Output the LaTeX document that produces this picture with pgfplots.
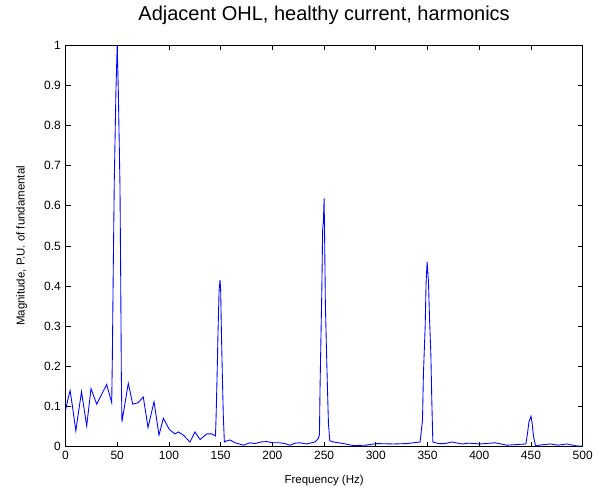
\documentclass[border=0pt]{standalone}
\usepackage{pgfplots}
\pgfplotsset{compat=1.18}
\usepackage{fontspec}
\setmainfont{Liberation Sans}

\begin{document}
\begin{tikzpicture}
% page frame, 605x493 px at 0.75pt/px
\useasboundingbox (-49.1pt,-34.7pt) rectangle (404.6pt,335.05pt);
\begin{axis}[
    scale only axis,
    width=387.9pt, height=301.3pt,
    at={(0,0)}, anchor=south west,
    xmin=0, xmax=500,
    ymin=0, ymax=1,
    xtick={0,50,...,500},
    ytick={0,0.1,...,1},
    tick align=inside,
    major tick length=3.8pt,
    axis line style={line width=0.5pt},
    every tick/.style={black, line width=0.5pt},
    /pgf/number format/assume math mode=true,
    /pgf/number format/fixed,
    ticklabel style={font=\fontsize{9}{10}\selectfont},
    xlabel={Frequency (Hz)},
    ylabel={Magnitude, P.U. of fundamental},
    label style={font=\fontsize{8.6}{10}\selectfont},
    xlabel style={yshift=-4.5pt},
    ylabel style={yshift=6pt},
    title={Adjacent OHL, healthy current, harmonics},
    title style={font=\fontsize{15}{16}\selectfont, at={(0.5,1)}, anchor=base, yshift=12pt},
]
\addplot[color=blue, line width=0.65pt] coordinates {
(0,0.09)(2.5,0.12)(4.5,0.14)(6.5,0.105)(10,0.04)(15.5,0.137)(20.5,0.052)
(24.7,0.145)(30.2,0.106)(39.8,0.155)(44.7,0.11)(45.3,0.22)(46.2,0.444)
(47.2,0.664)(48.8,0.888)(50,1.0)(51.1,0.884)(52.7,0.647)(53.4,0.415)
(54,0.178)(54.6,0.062)(60.7,0.158)(65,0.106)(70.4,0.11)(75.2,0.124)
(79.8,0.048)(85.6,0.112)(90.4,0.029)(94.6,0.071)(100.4,0.043)(105.9,0.032)
(109.1,0.037)(113.9,0.029)(120.4,0.012)(125.2,0.037)(130.1,0.018)
(136.6,0.032)(141.4,0.032)(145,0.027)(145.6,0.075)(146.5,0.17)(147.5,0.29)
(148.5,0.39)(149.4,0.415)(150,0.39)(150.7,0.29)(151.7,0.17)(152.6,0.075)
(153.6,0.012)(156,0.015)(159,0.017)(164,0.01)(172,0.004)(178.4,0.01)
(183,0.008)(189,0.012)(194.6,0.013)(200,0.01)(207.4,0.01)(212,0.008)
(217,0.004)(222,0.009)(226.8,0.01)(233,0.007)(241.3,0.012)(244.5,0.021)
(245.5,0.03)(246.1,0.15)(246.8,0.25)(247.8,0.39)(248.6,0.54)(249.3,0.56)
(250,0.618)(250.6,0.5)(251.2,0.36)(252.2,0.25)(253.2,0.15)(254.2,0.058)
(255.5,0.015)(259,0.012)(268.7,0.008)(278.3,0.003)(290,0.004)(301,0.008)
(317,0.007)(330,0.008)(342.8,0.012)(345.1,0.066)(346,0.18)(347.7,0.30)
(348.6,0.41)(349.6,0.46)(350.9,0.41)(351.9,0.32)(353.2,0.23)(354.1,0.116)
(355.1,0.012)(360.5,0.008)(367,0.008)(373.5,0.012)(383.2,0.007)(390,0.009)
(400.9,0.007)(415.4,0.01)(426.7,0.004)(445,0.007)(446.6,0.033)(448,0.062)
(450,0.076)(451,0.06)(452.5,0.025)(454.4,0.002)(457.3,0.004)(468.6,0.007)
(476,0.004)(484.7,0.007)(494.4,0.002)(500,0.002)
};
\end{axis}
\end{tikzpicture}
\end{document}
